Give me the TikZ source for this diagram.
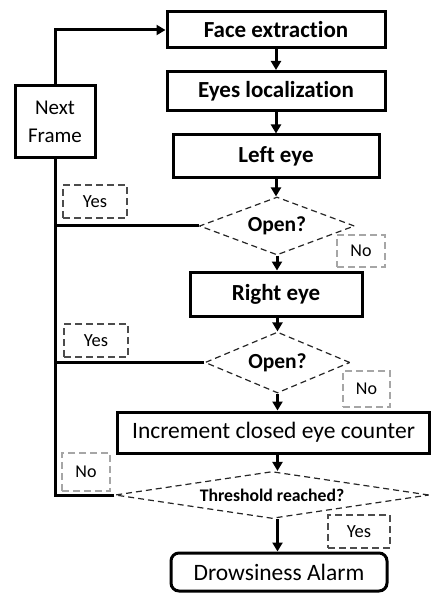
\documentclass[tikz,border=0pt]{standalone}
\usepackage{fontspec}
\setmainfont[Ligatures=NoCommon]{Carlito}
\usetikzlibrary{shapes.geometric,arrows.meta}
\tikzset{
  box/.style={draw=black, line width=3pt, rectangle, inner sep=0pt, font=\bfseries\fontsize{23}{27}\selectfont},
  dec/.style={draw=black!85, line width=1.2pt, dash pattern=on 6pt off 4pt, diamond, inner sep=0pt, font=\bfseries\fontsize{21.5}{25}\selectfont},
  lbldark/.style={draw=black!70, line width=2pt, dash pattern=on 7pt off 4pt, rectangle, inner sep=0pt, font=\fontsize{18.5}{22}\selectfont},
  lbllight/.style={draw=black!35, line width=2pt, dash pattern=on 7pt off 4pt, rectangle, inner sep=0pt, font=\fontsize{18}{22}\selectfont},
  conn/.style={line width=3pt},
  arr/.style={line width=3pt, -{Triangle[length=9pt,width=10pt]}},
}
\begin{document}
\begin{tikzpicture}[x=1pt,y=-1pt]
\useasboundingbox (0,0) rectangle (431,593);
% main boxes
\node[box, minimum width=218pt, minimum height=36pt] (face) at (276,30) {Face extraction};
\node[box, minimum width=218pt, minimum height=39pt] (eyes) at (276,91) {Eyes localization};
\node[box, minimum width=206pt, minimum height=43pt] (left) at (276,156.5) {Left eye};
\node[dec, shape aspect=2.67, minimum width=155pt, minimum height=58pt] (d1) at (277,226) {Open?};
\node[box, minimum width=172pt, minimum height=44pt] (right) at (276,294) {Right eye};
\node[dec, shape aspect=2.4, minimum width=145pt, minimum height=61pt] (d2) at (277.5,362.5) {Open?};
\node[box, font=\fontsize{23.5}{27}\selectfont, minimum width=312pt, minimum height=41pt] (inc) at (273.5,432.5) {Increment closed eye counter};
\node[dec, shape aspect=6.7, font=\bfseries\fontsize{17.7}{21}\selectfont, minimum width=314pt, minimum height=47pt] (d3) at (272,495) {Threshold reached?};
\node[box, rounded corners=8pt, font=\fontsize{23.5}{27}\selectfont, minimum width=216pt, minimum height=38pt] (alarm) at (279,572) {Drowsiness Alarm};
\node[box, font=\fontsize{21}{28}\selectfont, align=center, minimum width=80pt, minimum height=72pt] (next) at (55,122) {Next\\Frame};
% labels
\node[lbldark, minimum width=64pt, minimum height=33pt] (yes1) at (95,201.5) {Yes};
\node[lbllight, minimum width=48pt, minimum height=32pt] (no1) at (361,251) {No};
\node[lbldark, minimum width=64pt, minimum height=33pt] (yes2) at (96,340.5) {Yes};
\node[lbllight, minimum width=47pt, minimum height=36pt] (no2) at (366.5,389) {No};
\node[lbllight, minimum width=48pt, minimum height=38pt] (no3) at (86,472) {No};
\node[lbldark, minimum width=62pt, minimum height=33pt] (yes3) at (359,531.5) {Yes};
% vertical arrows
\draw[arr] (face.south) -- (eyes.north);
\draw[arr] (eyes.south) -- (left.north);
\draw[arr] (left.south) -- (left.south |- d1.north);
\draw[arr] (d1.south) -- (d1.south |- right.north);
\draw[arr] (d2.north |- right.south) -- (d2.north);
\draw[arr] (d2.south) -- (d2.south |- inc.north);
\draw[arr] (d2.south |- inc.south) -- (d2.south |- d3.north);
\draw[arr] (d2.south |- d3.south) -- (d2.south |- alarm.north);
% feedback lines
\coordinate (bus) at (55,495);
\draw[conn] (d3.west) -- (bus) -- (next.south);
\draw[conn] (d1.west) -- (d1.west -| next.south);
\draw[conn] (d2.west) -- (d2.west -| next.south);
\draw[arr] (next.north) -- (next.north |- face.west) -- (face.west);
\end{tikzpicture}
\end{document}
